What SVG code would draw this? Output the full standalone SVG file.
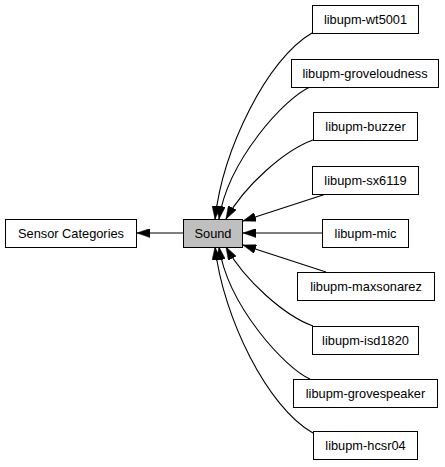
<svg xmlns="http://www.w3.org/2000/svg" width="445" height="467" viewBox="0 0 445 467">
<style>
.box{fill:#ffffff;stroke:#000000;stroke-width:1}
.cur{fill:#bfbfbf;stroke:#000000;stroke-width:1}
text{font-family:"Liberation Sans",Arial,sans-serif;font-size:12.8px;fill:#000000;text-anchor:middle}
.edge{fill:none;stroke:#000000;stroke-width:1.1;marker-end:url(#ah)}
</style>
<defs>
<marker id="ah" viewBox="0 0 13 9" refX="13" refY="4.5" markerWidth="13" markerHeight="9" markerUnits="userSpaceOnUse" orient="auto">
<path d="M0,0 L13,4.5 L0,9 z" fill="#000000" stroke="#000000" stroke-width="0.5"/>
</marker>
</defs>
<g id="connectors">
<path class="edge" d="M183,233 L137,233"/>
<path class="edge" d="M312,33 C267,59 223,149 215,219"/>
<path class="edge" d="M310,87 C285,98 228,160 219,219"/>
<path class="edge" d="M313,140 C285,150 245,185 226,219"/>
<path class="edge" d="M326,194 L243,221"/>
<path class="edge" d="M322,233 L243,233"/>
<path class="edge" d="M326,272 L243,245"/>
<path class="edge" d="M313,326 C285,316 245,281 226,247"/>
<path class="edge" d="M310,379 C285,368 228,306 219,247"/>
<path class="edge" d="M313,433 C267,407 223,317 215,247"/>
</g>
<g id="node-sensor-categories"><rect class="box" x="5.5" y="219.5" width="131" height="28"/><text x="71" y="238">Sensor Categories</text></g>
<g id="node-sound"><rect class="cur" x="183.5" y="219.5" width="59" height="28"/><text x="213" y="238">Sound</text></g>
<g id="node-wt5001"><rect class="box" x="312.5" y="5.5" width="106" height="28"/><text x="365.5" y="24">libupm-wt5001</text></g>
<g id="node-groveloudness"><rect class="box" x="291.5" y="59.5" width="147" height="28"/><text x="365" y="78">libupm-groveloudness</text></g>
<g id="node-buzzer"><rect class="box" x="313.5" y="112.5" width="104" height="28"/><text x="365.5" y="131">libupm-buzzer</text></g>
<g id="node-sx6119"><rect class="box" x="312.5" y="166.5" width="106" height="28"/><text x="365.5" y="185">libupm-sx6119</text></g>
<g id="node-mic"><rect class="box" x="322.5" y="219.5" width="86" height="28"/><text x="365.5" y="238">libupm-mic</text></g>
<g id="node-maxsonarez"><rect class="box" x="297.5" y="272.5" width="137" height="28"/><text x="366" y="291">libupm-maxsonarez</text></g>
<g id="node-isd1820"><rect class="box" x="312.5" y="326.5" width="106" height="28"/><text x="365.5" y="345">libupm-isd1820</text></g>
<g id="node-grovespeaker"><rect class="box" x="293.5" y="379.5" width="144" height="28"/><text x="365.5" y="398">libupm-grovespeaker</text></g>
<g id="node-hcsr04"><rect class="box" x="313.5" y="431.5" width="104" height="28"/><text x="365.5" y="450">libupm-hcsr04</text></g>
</svg>
